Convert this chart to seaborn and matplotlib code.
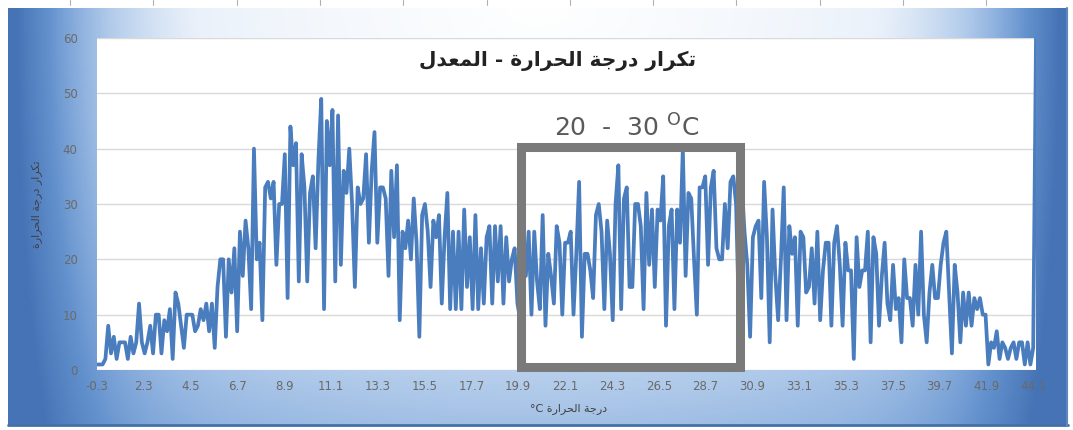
import numpy as np
import matplotlib
matplotlib.use("Agg")
import matplotlib.pyplot as plt
from matplotlib.colors import LinearSegmentedColormap
from matplotlib.patches import Rectangle
import seaborn as sns

# --- data ---
temp_labels = ["-0.3", "2.3", "4.5", "6.7", "8.9", "11.1", "13.3", "15.5", "17.7", "19.9",
               "22.1", "24.3", "26.5", "28.7", "30.9", "33.1", "35.3", "37.5", "39.7",
               "41.9", "44.1"]

counts = [
    1, 1, 1, 2, 8, 3, 6, 2, 5, 5, 5, 2, 6, 3, 5, 12,
    5, 3, 5, 8, 3, 10, 10, 3, 9, 7, 11, 2, 14, 12, 8, 4,
    10, 10, 10, 7, 8, 11, 9, 12, 7, 12, 4, 15, 20, 20, 6, 20,
    14, 22, 7, 25, 17, 27, 22, 11, 40, 20, 23, 9, 33, 34, 31, 34, 19, 30, 30, 39,
    13, 44, 37, 41, 16, 39, 33, 16, 32, 35, 22, 38, 49, 11, 45,
    37, 47, 16, 46, 19, 36, 32, 40, 30, 15, 33, 30, 31, 39, 23, 36, 43,
    23, 33, 33, 31, 17, 36, 24, 37, 9, 25, 22, 27, 20, 31, 23, 6,
    28, 30, 25, 15, 27, 24, 28, 12, 24, 32, 11, 25, 11, 25, 11, 29, 15,
    24, 11, 28, 11, 22, 12, 24, 26, 12, 26, 16, 26, 12, 24, 16, 20,
    22, 12, 9, 25, 17, 25, 10, 25, 16, 11, 28, 8, 21, 17, 12, 26,
    23, 10, 23, 23, 25, 10, 21, 34, 6, 21, 21, 18, 13, 28, 30, 25,
    11, 27, 21, 9, 30, 37, 11, 31, 33, 15, 15, 30, 30, 26, 11,
    32, 19, 29, 15, 29, 27, 35, 8, 26, 29, 11, 29, 23, 40, 17, 32, 31,
    20, 10, 33, 33, 35, 19, 33, 36, 22, 20, 20, 30, 22, 34, 35, 30, 10,
    34, 25, 19, 6, 24, 26, 27, 13, 34, 24, 5, 29, 17, 9, 20,
    33, 9, 26, 21, 24, 8, 25, 24, 14, 15, 22, 12, 25, 9, 18, 23, 23,
    8, 23, 26, 19, 8, 23, 18, 18, 2, 24, 15, 18, 18, 25, 5, 24,
    21, 8, 17, 23, 12, 9, 19, 11, 13, 5, 20, 13, 13, 8, 19, 10, 25,
    10, 5, 14, 19, 13, 13, 19, 23, 25, 14, 3, 19, 14, 5, 14, 8, 14, 8, 13, 11,
    13, 10, 10, 1, 5, 4, 7, 2, 5, 4, 2, 4, 5, 2, 5, 5, 1, 5, 1,
    4, 60,
]

y_ticks = [0, 10, 20, 30, 40, 50, 60]

title_txt = "تكرار درجة الحرارة - المعدل"
ylabel_txt = "تكرار درجة الحرارة"
xlabel_txt = "درجة الحرارة"
box_txt = "20  -  30 $^{\\mathregular{O}}$C"

# --- small arabic shaper (no network -> no arabic_reshaper / bidi) ---
# letter: (isolated, final, initial, medial); None = does not join forward
FORMS = {
    "ا": (0xFE8D, 0xFE8E, None, None),
    "ة": (0xFE93, 0xFE94, None, None),
    "ت": (0xFE95, 0xFE96, 0xFE97, 0xFE98),
    "ج": (0xFE9D, 0xFE9E, 0xFE9F, 0xFEA0),
    "ح": (0xFEA1, 0xFEA2, 0xFEA3, 0xFEA4),
    "د": (0xFEA9, 0xFEAA, None, None),
    "ر": (0xFEAD, 0xFEAE, None, None),
    "ع": (0xFEC9, 0xFECA, 0xFECB, 0xFECC),
    "ك": (0xFED9, 0xFEDA, 0xFEDB, 0xFEDC),
    "ل": (0xFEDD, 0xFEDE, 0xFEDF, 0xFEE0),
    "م": (0xFEE1, 0xFEE2, 0xFEE3, 0xFEE4),
}


def ar(s):
    out = []
    for i, c in enumerate(s):
        if c not in FORMS:
            out.append(c)
            continue
        prev = s[i - 1] if i > 0 else None
        nxt = s[i + 1] if i + 1 < len(s) else None
        jp = prev in FORMS and FORMS[prev][2] is not None
        jn = FORMS[c][2] is not None and nxt in FORMS
        f = FORMS[c]
        if jp and jn:
            code = f[3]
        elif jp:
            code = f[1]
        elif jn:
            code = f[2]
        else:
            code = f[0]
        out.append(chr(code))
    return "".join(reversed(out))


# --- style ---
sns.set_theme(style="white")
plt.rcParams['font.family'] = ['DejaVu Sans']

W, H = 1073, 430
fig = plt.figure(figsize=(W / 100, H / 100), dpi=100)
fig.patch.set_facecolor("white")

# background frame with excel-like blue gradient
bg = fig.add_axes([0, 0, 1, 1], zorder=-10)
bg.set_xlim(0, W)
bg.set_ylim(H, 0)
bg.axis("off")
gx, gy = np.meshgrid(np.linspace(0, 1, 400), np.linspace(0, 1, 200))
dx = np.abs(gx - 0.5) / 0.5
t = np.sqrt(0.95 * dx ** 8 + 0.5 * dx ** 2 * 0.3 + (gy / 1.75) ** 2)
cmap = LinearSegmentedColormap.from_list(
    "frame", [(0, "#ffffff"), (0.3, "#eaf1fa"), (0.5, "#b7cfec"),
              (0.65, "#8cb0de"), (0.8, "#6391cd"), (1.0, "#4573b5")])
bg.imshow(np.clip(t, 0, 1), cmap=cmap, vmin=0, vmax=1, aspect="auto",
          extent=(8, 1068, 426, 8), interpolation="bilinear")
bg.plot([8, 1068], [425, 425], color="#4470aa", lw=2)
bg.plot([1067, 1067], [8, 426], color="#5b86c2", lw=1.5)
for xr in np.arange(70, 1060, 83.3):
    bg.plot([xr, xr], [0, 5], color="#b0b0b0", lw=0.8)

# plot area
ax = fig.add_axes([97 / W, 60 / H, 939 / W, 332 / H])
ax.set_facecolor("white")
x = np.arange(len(counts))
sns.lineplot(x=x, y=counts, ax=ax, color="#4a7dbe", linewidth=2.7)

ax.set_xlim(0, len(counts) - 1)
ax.set_ylim(0, 60)
ax.set_xticks(np.linspace(0, len(counts) - 2, len(temp_labels)))
ax.set_xticklabels(temp_labels)
ax.set_yticks(y_ticks)
ax.tick_params(axis="both", length=0, labelsize=8.5, colors="#6a6a6a")
ax.tick_params(axis="y", pad=14)
ax.tick_params(axis="x", pad=7)
ax.grid(axis="y", color="#d9d9d9", linewidth=1)
ax.grid(axis="x", visible=False)
for sp in ax.spines.values():
    sp.set_visible(False)

ax.set_ylabel(ar(ylabel_txt), fontsize=8, color="#404040")
ax.yaxis.set_label_coords(-0.058, 0.5)
ax.set_xlabel("°C " + ar(xlabel_txt), fontsize=8, color="#404040")
ax.xaxis.set_label_coords(0.502, -0.098)

ax.text(0.491, 0.93, ar(title_txt), transform=ax.transAxes, ha="center", va="center",
        fontsize=14.5, fontweight="bold", color="#222222")

# highlighted 20-30 range
ax.add_patch(Rectangle((0.4515, 0.009), 0.2333, 0.663, transform=ax.transAxes,
                       fill=False, edgecolor="#7a7a7a", linewidth=6.5, clip_on=False,
                       zorder=5))
ax.text(0.564, 0.729, box_txt, transform=ax.transAxes, ha="center", va="center",
        fontsize=18, color="#5a5a5a")

fig.savefig("out.png", dpi=100)
